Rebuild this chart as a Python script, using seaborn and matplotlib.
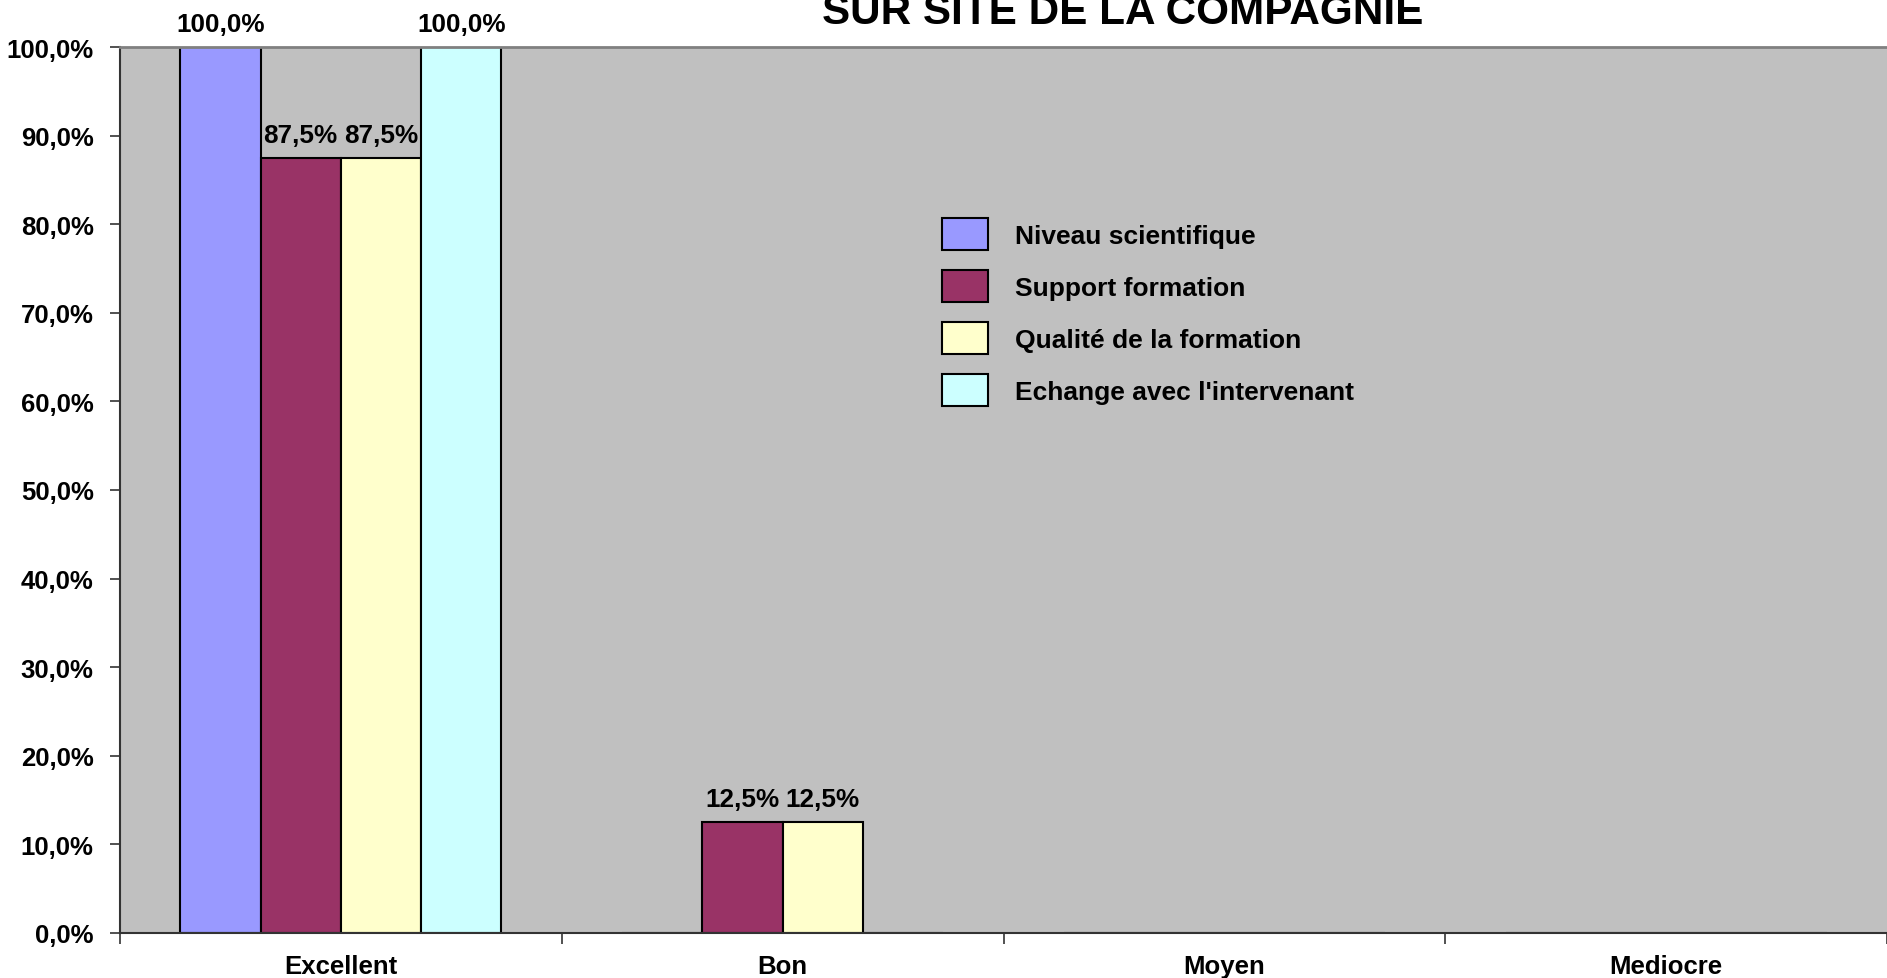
import matplotlib
matplotlib.use("Agg")
import matplotlib.pyplot as plt
import seaborn as sns
import pandas as pd
from matplotlib.ticker import FuncFormatter, FixedLocator

categories = ["Excellent", "Bon", "Moyen", "Mediocre"]
series_names = ["Niveau scientifique", "Support formation",
                "Qualité de la formation", "Echange avec l'intervenant"]
niveau = [1.0, 0.0, 0.0, 0.0]
support = [0.875, 0.125, 0.0, 0.0]
qualite = [0.875, 0.125, 0.0, 0.0]
echange = [1.0, 0.0, 0.0, 0.0]
title = "SUR SITE DE LA COMPAGNIE"

colors = ["#9999FF", "#993366", "#FFFFCC", "#CCFFFF"]

rows = []
for name, vals in zip(series_names, [niveau, support, qualite, echange]):
    for c, v in zip(categories, vals):
        rows.append({"cat": c, "serie": name, "val": v})
df = pd.DataFrame(rows)

sns.set_theme(style="white")
plt.rcParams["font.family"] = ["Liberation Sans", "DejaVu Sans"]
plt.rcParams["font.weight"] = "bold"
plt.rcParams["text.color"] = "black"

fig = plt.figure(figsize=(18.87, 9.79), dpi=100)
ax = fig.add_axes([120/1887, 1-934/979, 1-120/1887, (934-48)/979])
ax.set_facecolor("#C0C0C0")

sns.barplot(data=df, x="cat", y="val", hue="serie", order=categories,
            hue_order=series_names, palette=colors, width=0.727, gap=0,
            edgecolor="black", linewidth=1.5, saturation=1, legend=False, ax=ax)

ax.set_xlim(-0.5, 3.5)
ax.set_ylim(0, 1.0)
ax.set_xlabel("")
ax.set_ylabel("")

fmt = lambda v: f"{v*100:.1f}%".replace(".", ",")
ax.yaxis.set_major_locator(FixedLocator([i/10 for i in range(11)]))
ax.yaxis.set_major_formatter(FuncFormatter(lambda v, p: fmt(v)))
ax.tick_params(axis="y", which="major", direction="out", length=7, width=1.2,
               color="#333333", pad=12, labelsize=18.5, left=True)
ax.tick_params(axis="x", which="major", length=0, pad=15, labelsize=18.5)
ax.xaxis.set_minor_locator(FixedLocator([-0.5, 0.5, 1.5, 2.5, 3.5]))
ax.tick_params(axis="x", which="minor", direction="out", length=8, width=1.2,
               color="#333333", bottom=True)
for lab in ax.get_xticklabels() + ax.get_yticklabels():
    lab.set_fontweight("bold")
    lab.set_color("black")

for side in ["left", "bottom"]:
    ax.spines[side].set_color("#333333")
    ax.spines[side].set_linewidth(1.5)
ax.spines["top"].set_color("#808080")
ax.spines["top"].set_linewidth(2)
ax.spines["right"].set_visible(False)

for cont in ax.containers:
    labels = [fmt(b.get_height()) if b.get_height() > 0 else "" for b in cont]
    ax.bar_label(cont, labels=labels, padding=8, fontsize=18.8,
                 fontweight="bold", color="black", clip_on=False)

ax.legend(ax.containers, series_names, loc="upper left",
          bbox_to_anchor=(942/1887, 1-219/979), bbox_transform=fig.transFigure,
          frameon=False, handlelength=1.75, handleheight=1.5,
          handletextpad=1.0, labelspacing=0.75, borderpad=0, borderaxespad=0,
          prop={"weight": "bold", "size": 19}, labelcolor="black")

fig.text(1123/1887, 1-24/979, title, ha="center", va="baseline",
         fontsize=30.4, fontweight="bold", color="black")

fig.savefig("out.png", dpi=100, facecolor="white")
